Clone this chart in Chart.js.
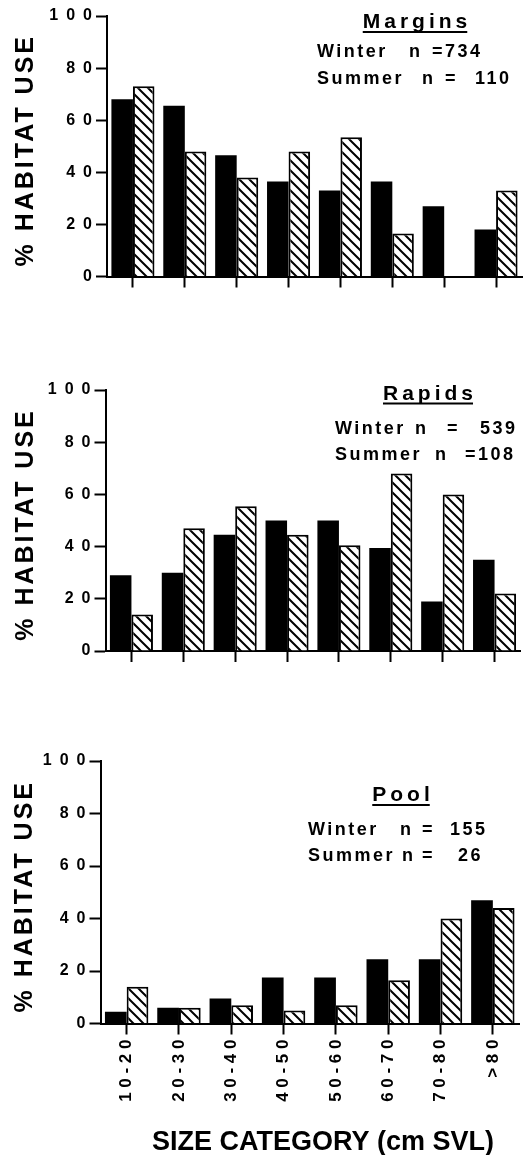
<!DOCTYPE html>
<html lang="en">
<head>
    <meta charset="UTF-8">
    <title>Habitat use by size category</title>
    <script src="https://cdn.jsdelivr.net/npm/chart.js"></script>
    <style>
        body { margin: 0; background: #fff; }
        .panel { position: absolute; left: 0; }
    </style>
</head>
<body>
    <div class="panel" style="top:0px"><canvas id="margins" width="525" height="300"></canvas></div>
    <div class="panel" style="top:370px"><canvas id="rapids" width="525" height="300"></canvas></div>
    <div class="panel" style="top:740px"><canvas id="pool" width="525" height="415"></canvas></div>

    <script>
        // size classes (cm SVL)
        const categories = ['10-20', '20-30', '30-40', '40-50', '50-60', '60-70', '70-80', '>80'];

        // % habitat use
        const marginsWinter = [68, 65.5, 46.5, 36.5, 33, 36.5, 27, 18];
        const marginsSummer = [73, 48, 38, 48, 53.5, 16.5, 0, 33];
        const rapidsWinter = [29, 30, 44.5, 50, 50, 39.5, 19, 35];
        const rapidsSummer = [14, 47, 55.5, 44.5, 40.5, 68, 60, 22];
        const poolWinter = [4.5, 6, 9.5, 17.5, 17.5, 24.5, 24.5, 47];
        const poolSummer = [14, 6, 7, 5, 7, 16.5, 40, 44];

        const yTicks = [0, 20, 40, 60, 80, 100];

        const FONT = '"Liberation Sans", Arial, Helvetica, sans-serif';

        function hatch() {
            const c = document.createElement('canvas');
            c.width = 10; c.height = 10;
            const g = c.getContext('2d');
            g.fillStyle = '#fff';
            g.fillRect(0, 0, 10, 10);
            g.strokeStyle = '#000';
            g.lineWidth = 2;
            g.beginPath();
            g.moveTo(-1, -1); g.lineTo(11, 11);
            g.moveTo(-1, 9); g.lineTo(1, 11);
            g.moveTo(9, -1); g.lineTo(11, 1);
            g.stroke();
            return g.createPattern(c, 'repeat');
        }

        // extra text: panel title, sample sizes, axis titles
        function panelText(p) {
            return {
                id: 'panelText',
                afterDraw(chart) {
                    const ctx = chart.ctx;
                    ctx.save();
                    ctx.fillStyle = '#000';
                    ctx.textBaseline = 'alphabetic';

                    ctx.font = 'bold 21px ' + FONT;
                    ctx.letterSpacing = '4px';
                    ctx.textAlign = 'left';
                    const w = ctx.measureText(p.title).width - 4;
                    ctx.fillText(p.title, p.titleX - w / 2, p.titleY);
                    ctx.fillRect(p.titleX - w / 2, p.titleY + 3, w, 2);

                    ctx.font = 'bold 18px ' + FONT;
                    ctx.letterSpacing = '2.5px';
                    p.lines.forEach(line => {
                        line.parts.forEach(part => ctx.fillText(part[0], part[1], line.y));
                    });

                    // y axis title
                    const a = chart.chartArea;
                    ctx.save();
                    ctx.translate(p.yTitleX, (a.top + a.bottom) / 2 + 4);
                    ctx.rotate(-Math.PI / 2);
                    ctx.font = 'bold 25px ' + FONT;
                    ctx.letterSpacing = '3px';
                    ctx.textAlign = 'center';
                    ctx.fillText('% HABITAT USE', 0, 0);
                    ctx.restore();

                    if (p.xTitle) {
                        ctx.font = 'bold 27px ' + FONT;
                        ctx.letterSpacing = '0px';
                        ctx.textAlign = 'center';
                        ctx.fillText(p.xTitle, 323, p.xTitleY);
                    }
                    ctx.restore();
                }
            };
        }

        const pattern = hatch();

        function makeChart(id, winter, summer, lay, text) {
            const ctx = document.getElementById(id).getContext('2d');
            return new Chart(ctx, {
                type: 'bar',
                data: {
                    labels: categories,
                    datasets: [{
                        label: 'Winter',
                        data: winter,
                        backgroundColor: '#000',
                        borderWidth: 0
                    }, {
                        label: 'Summer',
                        data: summer,
                        backgroundColor: pattern,
                        borderColor: '#000',
                        borderWidth: 2
                    }]
                },
                options: {
                    responsive: false,
                    animation: false,
                    devicePixelRatio: 1,
                    categoryPercentage: 0.83,
                    barPercentage: 1,
                    layout: { padding: { top: lay.top, right: lay.right, left: 0, bottom: 0 } },
                    plugins: { legend: { display: false }, tooltip: { enabled: false } },
                    scales: {
                        x: {
                            grid: {
                                offset: false,
                                drawOnChartArea: false,
                                drawTicks: true,
                                tickLength: 11,
                                tickWidth: 2,
                                tickColor: '#000'
                            },
                            border: { display: true, color: '#000', width: 2 },
                            ticks: {
                                display: lay.showLabels,
                                minRotation: 90,
                                maxRotation: 90,
                                padding: 5,
                                color: '#000',
                                font: { family: FONT, size: 17, weight: 'bold' },
                                callback: function(v) {
                                    return this.getLabelForValue(v).split('').join(' ');
                                }
                            },
                            afterFit: s => { s.height = lay.xHeight; }
                        },
                        y: {
                            min: 0,
                            max: 100,
                            afterBuildTicks: s => { s.ticks = yTicks.map(v => ({ value: v })); },
                            grid: {
                                drawOnChartArea: false,
                                drawTicks: true,
                                tickLength: 11,
                                tickWidth: 2,
                                tickColor: '#000'
                            },
                            border: { display: true, color: '#000', width: 2 },
                            ticks: {
                                padding: 4,
                                color: '#000',
                                font: { family: FONT, size: 16, weight: 'bold' },
                                callback: v => String(v).split('').join('\u2002')
                            },
                            afterFit: s => { s.width = lay.yWidth; }
                        }
                    }
                },
                plugins: [panelText(text)]
            });
        }

        makeChart('margins', marginsWinter, marginsSummer,
            { top: 16, right: 3, xHeight: 23.5, yWidth: 107, showLabels: false },
            {
                title: 'Margins', titleX: 415, titleY: 28,
                lines: [
                    { y: 57, parts: [['Winter', 317], ['n', 409], ['=734', 432]] },
                    { y: 84, parts: [['Summer', 317], ['n', 422], ['=', 445], ['110', 475]] }
                ],
                yTitleX: 33
            });

        makeChart('rapids', rapidsWinter, rapidsSummer,
            { top: 20, right: 4.5, xHeight: 19, yWidth: 105.5, showLabels: false },
            {
                title: 'Rapids', titleX: 428, titleY: 29.5,
                lines: [
                    { y: 64, parts: [['Winter', 335], ['n', 415], ['=', 447], ['539', 480]] },
                    { y: 90, parts: [['Summer', 335], ['n', 435], ['=108', 465]] }
                ],
                yTitleX: 33
            });

        makeChart('pool', poolWinter, poolSummer,
            { top: 21, right: 6, xHeight: 131.5, yWidth: 100.5, showLabels: true },
            {
                title: 'Pool', titleX: 401, titleY: 61,
                lines: [
                    { y: 95, parts: [['Winter', 308], ['n', 400], ['=', 422], ['155', 450]] },
                    { y: 121, parts: [['Summer', 308], ['n', 402], ['=', 422], ['26', 458]] }
                ],
                yTitleX: 32,
                xTitle: 'SIZE CATEGORY (cm SVL)', xTitleY: 410
            });
    </script>
</body>
</html>
